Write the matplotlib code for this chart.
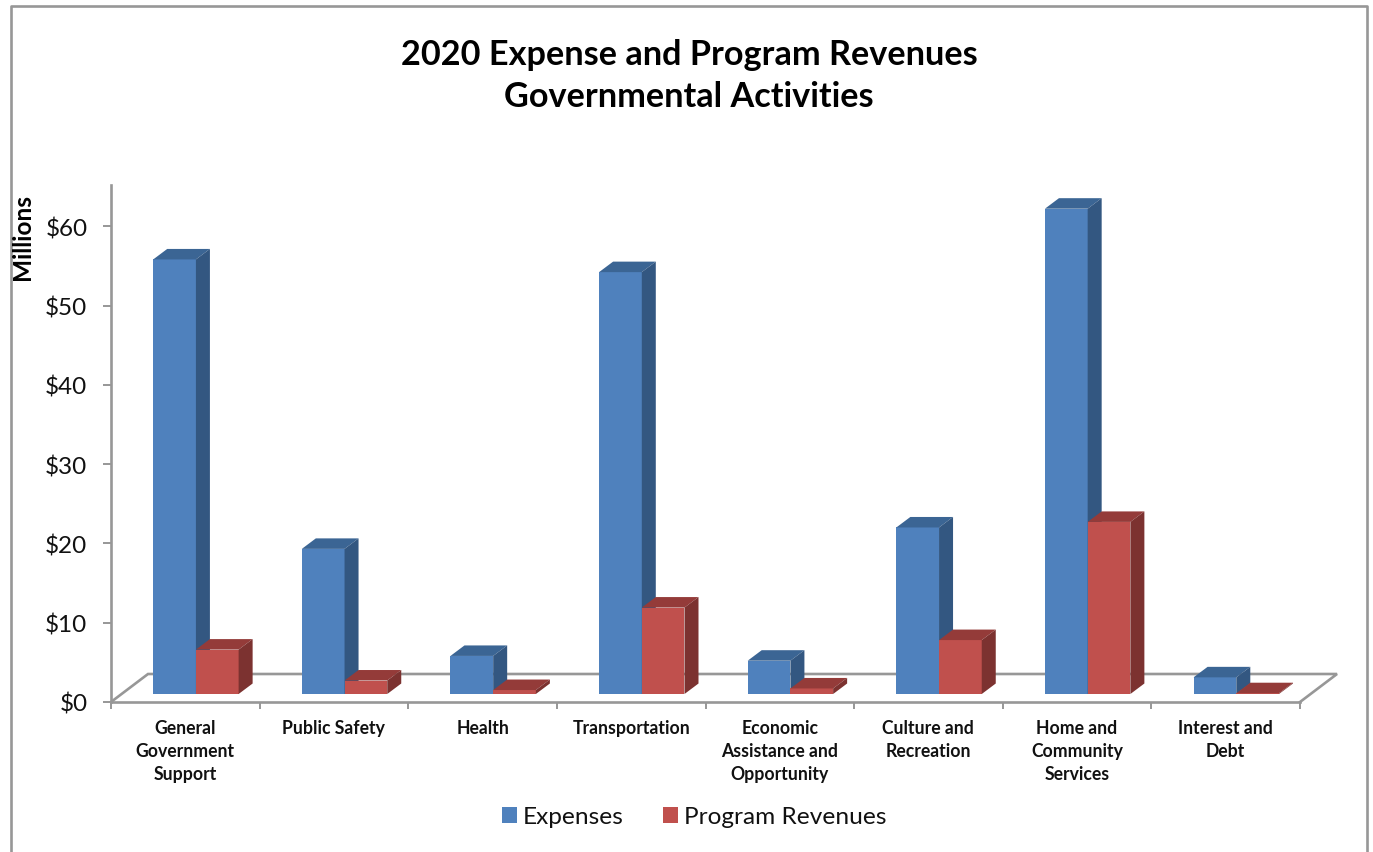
import matplotlib
matplotlib.use("Agg")
import matplotlib.pyplot as plt
from matplotlib.lines import Line2D
from matplotlib.patches import Polygon, Patch

categories = ["General\nGovernment\nSupport", "Public Safety", "Health", "Transportation",
              "Economic\nAssistance and\nOpportunity", "Culture and\nRecreation",
              "Home and\nCommunity\nServices", "Interest and\nDebt"]
expenses = [54.8, 18.3, 4.8, 53.2, 4.2, 21.0, 61.2, 2.1]
revenues = [5.6, 1.7, 0.5, 10.9, 0.7, 6.8, 21.7, 0.1]
yticks = [0, 10, 20, 30, 40, 50, 60]
ylabels = ["$" + str(v) for v in yticks]

W, H = 1373, 853
plt.rcParams["font.family"] = ["Lato", "DejaVu Sans"]
fig = plt.figure(figsize=(W / 100, H / 100), dpi=100)
GRAY = "#979797"

# outer chart frame (bottom edge runs off the image)
fig.add_artist(Line2D([11 / W, 11 / W, 1366.5 / W, 1366.5 / W], [0, 1 - 7 / H, 1 - 7 / H, 0],
                      color=GRAY, lw=1.9, transform=fig.transFigure))

ax = fig.add_axes([111 / W, 1 - 703 / H, 1189 / W, 517 / H])
PX_X = 148.6          # pixels per category
PX_Y = 7.93           # pixels per $1M
ax.set_xlim(0, 8)
ax.set_ylim(0, 517 / PX_Y)
ax.patch.set_alpha(0)
for s in ("top", "right"):
    ax.spines[s].set_visible(False)
for s in ("left", "bottom"):
    ax.spines[s].set_color(GRAY)
    ax.spines[s].set_linewidth(1.9)

# oblique projection helpers
floor_dx, floor_dy = 37 / PX_X, 28 / PX_Y
depth_dx, depth_dy = 14 / PX_X, 10.5 / PX_Y
lift_x, lift_y = 10.6 / PX_X, 8 / PX_Y
bar_w = 42.7 / PX_X

# floor outline
ax.plot([0, floor_dx, 8 + floor_dx, 8], [0, floor_dy, floor_dy, 0],
        color=GRAY, lw=1.9, clip_on=False, zorder=1, solid_joinstyle="miter")


def bar3d(x_left, value, front, top, side):
    b = lift_y
    ax.bar(x_left, value, bar_w, bottom=b, align="edge", color=front, zorder=3, clip_on=False,
           edgecolor="none")
    x0, x1 = x_left, x_left + bar_w
    t = b + value
    ax.add_patch(Polygon([(x0, t), (x1, t), (x1 + depth_dx, t + depth_dy), (x0 + depth_dx, t + depth_dy)],
                         closed=True, fc=top, ec="none", zorder=3, clip_on=False))
    ax.add_patch(Polygon([(x1, b), (x1, t), (x1 + depth_dx, t + depth_dy), (x1 + depth_dx, b + depth_dy)],
                         closed=True, fc=side, ec="none", zorder=3, clip_on=False))


for i, (e, r) in enumerate(zip(expenses, revenues)):
    c = i + 0.5 + lift_x
    bar3d(c - bar_w, e, "#4F81BD", "#3B6594", "#335781")
    bar3d(c, r, "#C0504D", "#943B39", "#7C3230")

# axes ticks
ax.set_yticks(yticks, ylabels, fontsize=17.5, color="#111111")
ax.tick_params(axis="y", length=6, width=1.4, color=GRAY, pad=11)
ax.set_xticks(range(9), [""] * 9)
ax.tick_params(axis="x", which="major", length=5, width=1.4, color=GRAY)
ax.set_xticks([i + 0.5 for i in range(8)], categories, minor=True, fontsize=12.7,
              fontweight="bold", linespacing=1.43, color="#111111")
ax.tick_params(axis="x", which="minor", length=0, pad=12.5)

fig.text(23 / W, 1 - 237 / H, "Millions", rotation=90, ha="center", va="center",
         fontsize=17.6, fontweight="bold", color="black")
fig.text(689 / W, 1 - 76 / H, "2020 Expense and Program Revenues\nGovernmental Activities",
         ha="center", va="center", fontsize=24.7, fontweight="bold", linespacing=1.41, color="black")

handles = [Patch(fc="#4F81BD", label="Expenses"), Patch(fc="#C0504D", label="Program Revenues")]
fig.legend(handles=handles, loc="center", bbox_to_anchor=(694 / W, 1 - 818 / H), ncol=2, frameon=False,
           fontsize=17.6, handlelength=0.61, handleheight=0.61, handletextpad=0.25, columnspacing=1.6,
           labelcolor="#111111")

fig.savefig("out.png", dpi=100)
